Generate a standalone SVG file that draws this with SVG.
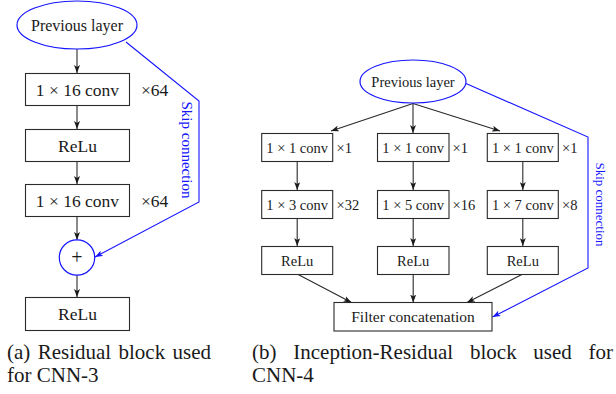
<svg xmlns="http://www.w3.org/2000/svg" width="616" height="394" viewBox="0 0 616 394" font-family="'Liberation Serif', 'Times New Roman', 'DejaVu Serif', serif">
  <style>
    text { font-family: 'Liberation Serif', 'Times New Roman', 'DejaVu Serif', serif; fill: #1a1a1a; }
    .box { fill: #fff; stroke: #2a2a2a; stroke-width: 1.1; }
    .oval { fill: #fff; stroke: #1515ff; stroke-width: 1.2; }
    .edge { fill: none; stroke: #2a2a2a; stroke-width: 1.1; marker-end: url(#arrow); }
    .skip { fill: none; stroke: #1515ff; stroke-width: 1.1; }
    .skipArrow { marker-end: url(#arrowBlue); }
    .la { font-size: 17.5px; text-anchor: middle; }
    .lm { font-size: 17.5px; }
    .ra { font-size: 14.5px; text-anchor: middle; }
    .rm { font-size: 14.5px; }
    .blue { fill: #1515ff; }
    .cap { font-size: 21px; }
  </style>
  <defs>
    <marker id="arrow" viewBox="0 0 8 6" refX="8" refY="3" markerWidth="8" markerHeight="6" markerUnits="userSpaceOnUse" orient="auto">
      <path d="M0,0 L8,3 L0,6 L2,3 Z" fill="#1a1a1a"/>
    </marker>
    <marker id="arrowBlue" viewBox="0 0 8 6" refX="8" refY="3" markerWidth="8" markerHeight="6" markerUnits="userSpaceOnUse" orient="auto">
      <path d="M0,0 L8,3 L0,6 L2,3 Z" fill="#1515ff"/>
    </marker>
  </defs>
  <rect width="616" height="394" fill="#fff"/>

  <!-- (a) residual block: connectors -->
  <g id="connectors-a">
    <line class="edge" x1="77" y1="49" x2="77" y2="73"/>
    <line class="edge" x1="77" y1="105" x2="77" y2="129"/>
    <line class="edge" x1="77" y1="161" x2="77" y2="184"/>
    <line class="edge" x1="77" y1="216" x2="77" y2="240"/>
    <line class="edge" x1="77" y1="275" x2="77" y2="297"/>
    <polyline class="skip skipArrow" points="126,42 199,101 199,202 95,257"/>
    <text class="blue" font-size="15" text-anchor="middle" transform="translate(182,150) rotate(90)">Skip connection</text>
  </g>

  <!-- (a) residual block: nodes -->
  <g id="a-prev">
    <ellipse class="oval" cx="77" cy="25" rx="60" ry="24"/>
    <text x="77" y="30.5" font-size="16" text-anchor="middle">Previous layer</text>
  </g>
  <g id="a-conv1">
    <rect class="box" x="25.5" y="73.5" width="104" height="32"/>
    <text class="la" x="77.5" y="95.5">1 × 16 conv</text>
    <text class="lm" x="141" y="95.5">×64</text>
  </g>
  <g id="a-relu1">
    <rect class="box" x="25.5" y="129.5" width="104" height="32"/>
    <text class="la" x="77.5" y="151.5">ReLu</text>
  </g>
  <g id="a-conv2">
    <rect class="box" x="25.5" y="184.5" width="104" height="32"/>
    <text class="la" x="77.5" y="206.5">1 × 16 conv</text>
    <text class="lm" x="141" y="206.5">×64</text>
  </g>
  <g id="a-add">
    <circle class="oval" cx="77" cy="257.5" r="17.7"/>
    <text x="77" y="263.5" font-size="20" text-anchor="middle" fill="#333">+</text>
  </g>
  <g id="a-relu2">
    <rect class="box" x="25.5" y="297.5" width="104" height="33"/>
    <text class="la" x="77.5" y="320">ReLu</text>
  </g>

  <!-- (b) inception-residual block: connectors -->
  <g id="connectors-b">
    <line class="edge" x1="413" y1="103.5" x2="331" y2="131"/>
    <line class="edge" x1="413" y1="103.5" x2="413" y2="133"/>
    <line class="edge" x1="413" y1="103.5" x2="500" y2="131"/>
    <line class="edge" x1="297.2" y1="161" x2="297.2" y2="190"/>
    <line class="edge" x1="413.2" y1="161" x2="413.2" y2="190"/>
    <line class="edge" x1="522.8" y1="161" x2="522.8" y2="190"/>
    <line class="edge" x1="297.2" y1="218" x2="297.2" y2="246"/>
    <line class="edge" x1="413.2" y1="218" x2="413.2" y2="246"/>
    <line class="edge" x1="522.8" y1="218" x2="522.8" y2="246"/>
    <line class="edge" x1="297.2" y1="274" x2="351.5" y2="302.5"/>
    <line class="edge" x1="413.2" y1="274" x2="413.2" y2="302.5"/>
    <line class="edge" x1="522.8" y1="274" x2="467" y2="302.5"/>
    <polyline class="skip skipArrow" points="466,83.5 588,137 588,268 492.5,317"/>
    <text class="blue" font-size="13" text-anchor="middle" transform="translate(596,204.5) rotate(90)">Skip connection</text>
  </g>

  <!-- (b) inception-residual block: nodes -->
  <g id="b-prev">
    <ellipse class="oval" cx="413" cy="81.5" rx="53" ry="21.5"/>
    <text class="ra" x="413" y="86.5">Previous layer</text>
  </g>
  <g id="b-conv1x1-a">
    <rect class="box" x="261.7" y="133.5" width="71" height="28"/>
    <text class="ra" x="297.2" y="152.5">1 × 1 conv</text>
    <text class="rm" x="336.5" y="152.5">×1</text>
  </g>
  <g id="b-conv1x1-b">
    <rect class="box" x="377.5" y="133.5" width="71.5" height="28"/>
    <text class="ra" x="413.2" y="152.5">1 × 1 conv</text>
    <text class="rm" x="452.5" y="152.5">×1</text>
  </g>
  <g id="b-conv1x1-c">
    <rect class="box" x="487.3" y="133.5" width="71" height="28"/>
    <text class="ra" x="522.8" y="152.5">1 × 1 conv</text>
    <text class="rm" x="562" y="152.5">×1</text>
  </g>
  <g id="b-conv1x3">
    <rect class="box" x="261.7" y="190.5" width="71" height="28"/>
    <text class="ra" x="297.2" y="209.5">1 × 3 conv</text>
    <text class="rm" x="336.5" y="209.5">×32</text>
  </g>
  <g id="b-conv1x5">
    <rect class="box" x="377.5" y="190.5" width="71.5" height="28"/>
    <text class="ra" x="413.2" y="209.5">1 × 5 conv</text>
    <text class="rm" x="452.5" y="209.5">×16</text>
  </g>
  <g id="b-conv1x7">
    <rect class="box" x="487.3" y="190.5" width="71" height="28"/>
    <text class="ra" x="522.8" y="209.5">1 × 7 conv</text>
    <text class="rm" x="562" y="209.5">×8</text>
  </g>
  <g id="b-relu-a">
    <rect class="box" x="261.7" y="246.5" width="71" height="28"/>
    <text class="ra" x="297.2" y="265.5">ReLu</text>
  </g>
  <g id="b-relu-b">
    <rect class="box" x="377.5" y="246.5" width="71.5" height="28"/>
    <text class="ra" x="413.2" y="265.5">ReLu</text>
  </g>
  <g id="b-relu-c">
    <rect class="box" x="487.3" y="246.5" width="71" height="28"/>
    <text class="ra" x="522.8" y="265.5">ReLu</text>
  </g>
  <g id="b-concat">
    <rect class="box" x="334" y="302.5" width="158" height="28.5"/>
    <text x="413" y="322" font-size="15.5" text-anchor="middle">Filter concatenation</text>
  </g>

  <!-- captions (justified first lines) -->
  <g id="captions">
    <text class="cap" x="7" y="359">(a)</text>
    <text class="cap" x="37.7" y="359">Residual</text>
    <text class="cap" x="118.5" y="359">block</text>
    <text class="cap" x="172.5" y="359">used</text>
    <text class="cap" x="7" y="382">for CNN-3</text>
    <text class="cap" x="252" y="359">(b)</text>
    <text class="cap" x="293.3" y="359">Inception-Residual</text>
    <text class="cap" x="470" y="359">block</text>
    <text class="cap" x="533.3" y="359">used</text>
    <text class="cap" x="588.5" y="359">for</text>
    <text class="cap" x="252" y="382">CNN-4</text>
  </g>
</svg>
